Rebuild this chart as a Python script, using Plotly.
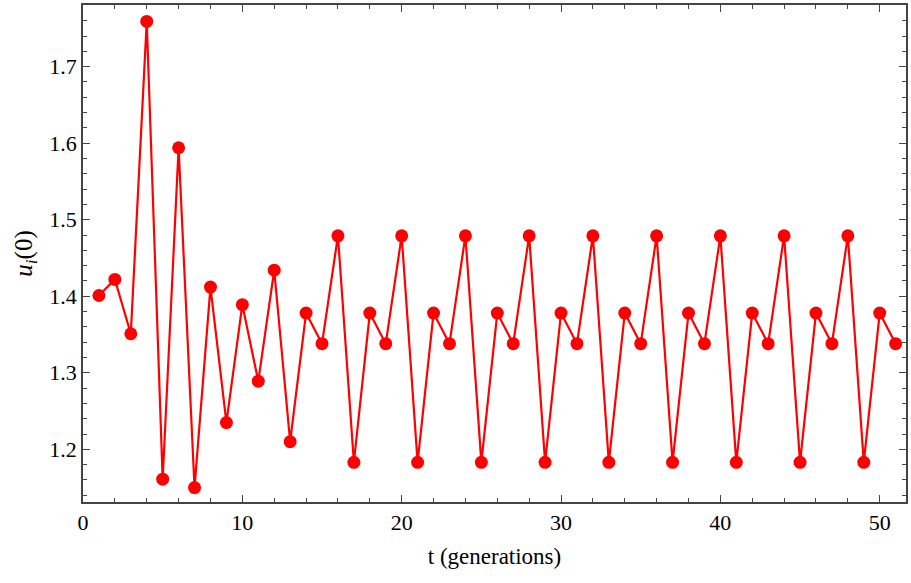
import plotly.graph_objects as go

t = list(range(1, 52))
early = [1.401, 1.422, 1.351, 1.759, 1.161, 1.594, 1.150, 1.412, 1.235, 1.389,
         1.289, 1.434, 1.210, 1.378, 1.338, 1.479, 1.183]
cycle = [1.378, 1.338, 1.479, 1.183]
u = early + [cycle[i % 4] for i in range(len(t) - len(early))]

x_ticks = [0, 10, 20, 30, 40, 50]
y_ticks = [1.2, 1.3, 1.4, 1.5, 1.6, 1.7]

fig = go.Figure(go.Scatter(
    x=t, y=u, mode="lines+markers",
    line=dict(color="#ff0000", width=2.2),
    marker=dict(color="#ff0000", size=13),
))

font = dict(family="Liberation Serif", size=22, color="#000")
axis_common = dict(showline=True, linecolor="#444", linewidth=1.5, mirror="ticks",
                   ticks="inside", ticklen=7, tickcolor="#444", showgrid=False,
                   zeroline=False, tickfont=font)
fig.update_xaxes(range=[0, 51.65], tickvals=x_ticks, ticktext=[str(v) for v in x_ticks],
                 minor=dict(dtick=2, tick0=0, ticks="inside", ticklen=4, tickcolor="#444"),
                 title=dict(text="t (generations)", font=dict(family="Liberation Serif", size=23, color="#000"), standoff=14),
                 **axis_common)
fig.update_yaxes(range=[1.1312, 1.7805], tickvals=y_ticks, ticktext=[f"{v:.1f}" for v in y_ticks],
                 minor=dict(dtick=0.02, tick0=1.1, ticks="inside", ticklen=4, tickcolor="#444"),
                 title=dict(text="<i>u</i><sub><i>i</i></sub>(0)", font=dict(family="Liberation Serif", size=25, color="#000"), standoff=10),
                 **axis_common)
fig.update_layout(width=911, height=583, margin=dict(l=83, r=3, t=4, b=81),
                  plot_bgcolor="white", paper_bgcolor="white", showlegend=False)
fig.write_html("out.html", config={"displayModeBar": False},
               post_script="document.body.style.margin='0';")
